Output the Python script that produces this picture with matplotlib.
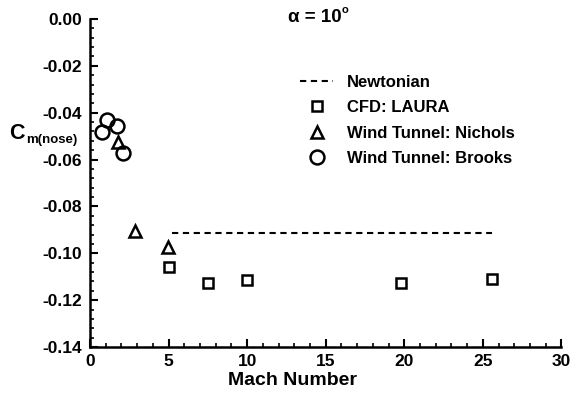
import matplotlib
matplotlib.use("Agg")
import matplotlib.pyplot as plt
from matplotlib.ticker import MultipleLocator, FormatStrFormatter

plt.rcParams['font.family'] = ['Liberation Sans', 'DejaVu Sans']
plt.rcParams['font.weight'] = 'bold'

# data
newton_mach = [5.2, 25.6]
newton_cm = [-0.0915, -0.0915]

laura_mach = [5.0, 7.5, 10.0, 19.8, 25.6]
laura_cm = [-0.1060, -0.1128, -0.1115, -0.1128, -0.1108]

nichols_mach = [1.8, 2.85, 4.95]
nichols_cm = [-0.0526, -0.0906, -0.0974]

brooks_mach = [0.78, 1.06, 1.73, 2.11]
brooks_cm = [-0.0484, -0.0430, -0.0455, -0.0571]

fig = plt.figure(figsize=(5.7, 3.95), dpi=100)
ax = fig.add_axes([0.158, 0.1215, 0.827, 0.8305])

ax.plot(newton_mach, newton_cm, color='black', linestyle=(0, (3, 2.2)), linewidth=1.5,
        label='Newtonian')
ax.plot(laura_mach, laura_cm, linestyle='none', marker='s', markersize=7,
        markerfacecolor='none', markeredgecolor='black', markeredgewidth=1.8,
        label='CFD: LAURA')
ax.plot(nichols_mach, nichols_cm, linestyle='none', marker='^', markersize=8,
        markerfacecolor='none', markeredgecolor='black', markeredgewidth=1.8,
        label='Wind Tunnel: Nichols')
ax.plot(brooks_mach, brooks_cm, linestyle='none', marker='o', markersize=10,
        markerfacecolor='none', markeredgecolor='black', markeredgewidth=1.8,
        label='Wind Tunnel: Brooks')

ax.set_xlim(0, 30)
ax.set_ylim(-0.14, 0.0)
ax.xaxis.set_major_locator(MultipleLocator(5))
ax.xaxis.set_minor_locator(MultipleLocator(1))
ax.yaxis.set_major_locator(MultipleLocator(0.02))
ax.yaxis.set_minor_locator(MultipleLocator(0.004))
ax.yaxis.set_major_formatter(FormatStrFormatter('%.2f'))

for side in ['top', 'right']:
    ax.spines[side].set_visible(False)
for side in ['left', 'bottom']:
    ax.spines[side].set_linewidth(1.8)

ax.tick_params(which='major', direction='in', length=6, width=1.5, labelsize=12.5)
ax.tick_params(axis='x', which='major', pad=5)
ax.tick_params(axis='y', which='major', pad=6)
ax.tick_params(which='minor', direction='in', length=3, width=1.2)
for lab in ax.get_xticklabels() + ax.get_yticklabels():
    lab.set_fontweight('bold')

ax.set_xlabel('Mach Number', fontsize=14, fontweight='bold', labelpad=0)
ax.xaxis.set_label_coords(0.43, -0.075)

fig.text(0.016, 0.663, 'C', fontsize=15.5, fontweight='bold', ha='left', va='center')
fig.text(0.045, 0.645, 'm(nose)', fontsize=9.5, fontweight='bold', ha='left', va='center')

fig.text(0.505, 0.956, 'α = 10', fontsize=13.5, fontweight='bold', ha='left', va='center')
fig.text(0.6, 0.975, 'o', fontsize=8, fontweight='bold', ha='left', va='center')

ax.legend(loc='upper left', bbox_to_anchor=(300 / 570, 1 - 75 / 395),
          bbox_transform=fig.transFigure, frameon=False,
          handlelength=2.0, handletextpad=0.8, labelspacing=0.62,
          borderpad=0, borderaxespad=0, prop={'weight': 'bold', 'size': 12})

fig.savefig('out.png', dpi=100)
